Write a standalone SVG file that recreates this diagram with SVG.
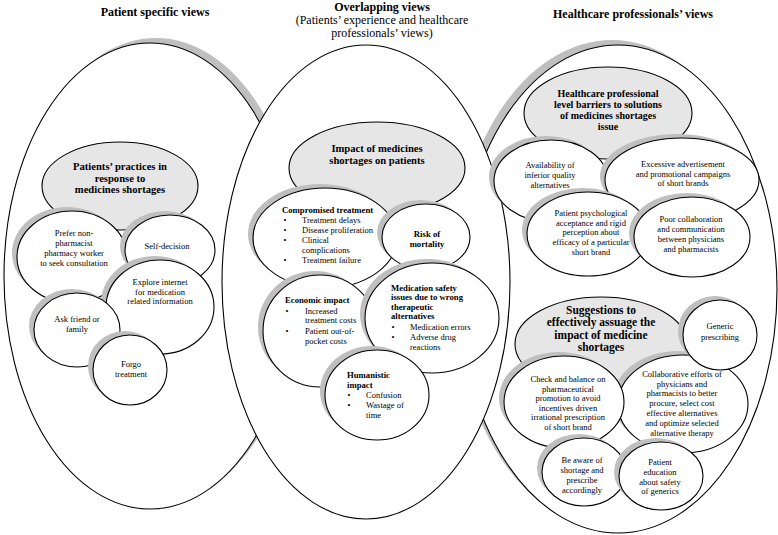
<svg xmlns="http://www.w3.org/2000/svg" width="778" height="535" viewBox="0 0 778 535">
<style>
.sh{fill:#bfbfbf}
.w{fill:#fff;stroke:#000;stroke-width:1.1}
.g{fill:#e6e6e6;stroke:#000;stroke-width:1.1}
text{font-family:"Liberation Serif","Times New Roman",serif;fill:#000}
.t{font-size:8.5px;text-anchor:middle}
.l{font-size:8.5px;text-anchor:start}
.bl{font-size:8.7px;font-weight:bold;text-anchor:start}
.bc{font-size:8.7px;font-weight:bold;text-anchor:middle}
.hd{font-size:10.6px;font-weight:bold;text-anchor:middle}
.ti{font-size:12px;font-weight:bold;text-anchor:middle}
.st{font-size:12px;text-anchor:middle}
</style>
<rect width="778" height="535" fill="#fff"/>

<!-- titles -->
<g id="titles">
<text class="ti" x="155" y="15.5">Patient specific views</text>
<text class="ti" x="382" y="11">Overlapping views</text>
<text class="st" x="382" y="24">(Patients’ experience and healthcare</text>
<text class="st" x="382" y="37">professionals’ views)</text>
<text class="ti" x="633" y="18">Healthcare professionals’ views</text>
</g>

<!-- big sections -->
<g id="section-patient">
<ellipse class="sh" cx="150" cy="276" rx="146" ry="233" transform="translate(6,-5)"/>
<ellipse class="w" cx="150" cy="276" rx="146" ry="233"/>
</g>
<g id="section-professional">
<ellipse class="sh" cx="618" cy="289" rx="159" ry="244" transform="translate(-6,-5)"/>
<ellipse class="w" cx="618" cy="289" rx="159" ry="244"/>
</g>
<g id="section-overlap">
<ellipse class="w" cx="366" cy="282" rx="144" ry="237"/>
</g>

<!-- left section nodes -->
<g id="patients-practices">
<ellipse class="g" cx="120" cy="186" rx="78" ry="44"/>
<text class="hd" x="120" y="170">Patients’ practices in</text>
<text class="hd" x="120" y="181.5">response to</text>
<text class="hd" x="120" y="193">medicines shortages</text>
</g>
<g id="prefer-non-pharmacist">
<ellipse class="sh" cx="72" cy="257" rx="55" ry="46" transform="translate(-5,-4)"/>
<ellipse class="w" cx="72" cy="257" rx="55" ry="46"/>
<text class="t" x="74" y="236">Prefer non-</text>
<text class="t" x="74" y="246">pharmacist</text>
<text class="t" x="74" y="256">pharmacy worker</text>
<text class="t" x="74" y="266">to seek consultation</text>
</g>
<g id="self-decision">
<ellipse class="sh" cx="170" cy="250" rx="45" ry="35" transform="translate(-5,-4)"/>
<ellipse class="w" cx="170" cy="250" rx="45" ry="35"/>
<text class="t" x="167" y="249">Self-decision</text>
</g>
<g id="explore-internet">
<ellipse class="sh" cx="160" cy="307" rx="54" ry="47" transform="translate(-5,-4)"/>
<ellipse class="w" cx="160" cy="307" rx="54" ry="47"/>
<text class="t" x="160" y="285">Explore internet</text>
<text class="t" x="160" y="294.5">for medication</text>
<text class="t" x="160" y="304">related information</text>
</g>
<g id="ask-friend">
<ellipse class="sh" cx="77" cy="330" rx="43" ry="37" transform="translate(-5,-4)"/>
<ellipse class="w" cx="77" cy="330" rx="43" ry="37"/>
<text class="t" x="77" y="322">Ask friend or</text>
<text class="t" x="77" y="332">family</text>
</g>
<g id="forgo-treatment">
<ellipse class="sh" cx="130" cy="370" rx="37" ry="35" transform="translate(-5,-4)"/>
<ellipse class="w" cx="130" cy="370" rx="37" ry="35"/>
<text class="t" x="131" y="367">Forgo</text>
<text class="t" x="131" y="377">treatment</text>
</g>

<!-- middle section nodes -->
<g id="impact">
<ellipse class="g" cx="377" cy="168" rx="88" ry="46"/>
<text class="hd" x="377" y="152">Impact of medicines</text>
<text class="hd" x="377" y="164">shortages on patients</text>
</g>
<g id="compromised-treatment">
<ellipse class="sh" cx="325" cy="238" rx="72" ry="50" transform="translate(-5,-4)"/>
<ellipse class="w" cx="325" cy="238" rx="72" ry="50"/>
<text class="bl" x="282" y="212.5">Compromised treatment</text>
<text class="t" x="285" y="222.5">•</text><text class="l" x="302" y="222.5">Treatment delays</text>
<text class="t" x="285" y="232.5">•</text><text class="l" x="302" y="232.5">Disease proliferation</text>
<text class="t" x="285" y="242.5">•</text><text class="l" x="302" y="242.5">Clinical</text>
<text class="l" x="302" y="252.5">complications</text>
<text class="t" x="285" y="262.5">•</text><text class="l" x="302" y="262.5">Treatment failure</text>
</g>
<g id="risk-mortality">
<ellipse class="sh" cx="426" cy="237" rx="44" ry="33" transform="translate(-5,-4)"/>
<ellipse class="w" cx="426" cy="237" rx="44" ry="33"/>
<text class="bc" x="427" y="236.5">Risk of</text>
<text class="bc" x="427" y="246.5">mortality</text>
</g>
<g id="economic-impact">
<ellipse class="sh" cx="320" cy="331" rx="57" ry="56" transform="translate(-5,-4)"/>
<ellipse class="w" cx="320" cy="331" rx="57" ry="56"/>
<text class="bl" x="285" y="303">Economic impact</text>
<text class="t" x="287" y="313.5">•</text><text class="l" x="305" y="313.5">Increased</text>
<text class="l" x="305" y="323">treatment costs</text>
<text class="t" x="287" y="334">•</text><text class="l" x="305" y="334">Patient out-of-</text>
<text class="l" x="305" y="343.5">pocket costs</text>
</g>
<g id="medication-safety">
<ellipse class="sh" cx="432" cy="318" rx="67" ry="55" transform="translate(-5,-4)"/>
<ellipse class="w" cx="432" cy="318" rx="67" ry="55"/>
<text class="bl" x="391" y="290.5">Medication safety</text>
<text class="bl" x="391" y="300">issues due to wrong</text>
<text class="bl" x="391" y="310">therapeutic</text>
<text class="bl" x="391" y="319">alternatives</text>
<text class="t" x="393" y="330">•</text><text class="l" x="410" y="330">Medication errors</text>
<text class="t" x="393" y="340">•</text><text class="l" x="410" y="340">Adverse drug</text>
<text class="l" x="410" y="350">reactions</text>
</g>
<g id="humanistic-impact">
<ellipse class="sh" cx="377" cy="395" rx="52" ry="45" transform="translate(-5,-4)"/>
<ellipse class="w" cx="377" cy="395" rx="52" ry="45"/>
<text class="bl" x="347" y="377.5">Humanistic</text>
<text class="bl" x="347" y="387.5">impact</text>
<text class="t" x="349" y="397.5">•</text><text class="l" x="366" y="397.5">Confusion</text>
<text class="t" x="349" y="407.5">•</text><text class="l" x="366" y="407.5">Wastage of</text>
<text class="l" x="366" y="417.5">time</text>
</g>

<!-- right top nodes -->
<g id="barriers">
<ellipse class="g" cx="608" cy="113" rx="84" ry="46"/>
<text class="hd" x="608" y="96.5" style="font-size:10px">Healthcare professional</text>
<text class="hd" x="608" y="107.5" style="font-size:10px">level barriers to solutions</text>
<text class="hd" x="608" y="118.5" style="font-size:10px">of medicines shortages</text>
<text class="hd" x="608" y="129.5" style="font-size:10px">issue</text>
</g>
<g id="availability">
<ellipse class="sh" cx="551" cy="181" rx="57" ry="41" transform="translate(-5,-4)"/>
<ellipse class="w" cx="551" cy="181" rx="57" ry="41"/>
<text class="t" x="550" y="167.5">Availability of</text>
<text class="t" x="550" y="177.5">inferior quality</text>
<text class="t" x="550" y="187.5">alternatives</text>
</g>
<g id="excessive-advertisement">
<ellipse class="sh" cx="682" cy="180" rx="77" ry="42" transform="translate(-5,-4)"/>
<ellipse class="w" cx="682" cy="180" rx="77" ry="42"/>
<text class="t" x="683" y="166.5">Excessive advertisement</text>
<text class="t" x="683" y="176.5">and promotional campaigns</text>
<text class="t" x="683" y="186">of short brands</text>
</g>
<g id="patient-psychological">
<ellipse class="sh" cx="588" cy="234" rx="61" ry="42" transform="translate(-5,-4)"/>
<ellipse class="w" cx="588" cy="234" rx="61" ry="42"/>
<text class="t" x="591" y="215.5">Patient psychological</text>
<text class="t" x="591" y="225.5">acceptance and rigid</text>
<text class="t" x="591" y="235">perception about</text>
<text class="t" x="591" y="245">efficacy of a particular</text>
<text class="t" x="591" y="255">short brand</text>
</g>
<g id="poor-collaboration">
<ellipse class="sh" cx="692" cy="237" rx="58" ry="40" transform="translate(-5,-4)"/>
<ellipse class="w" cx="692" cy="237" rx="58" ry="40"/>
<text class="t" x="691" y="222">Poor collaboration</text>
<text class="t" x="691" y="232">and communication</text>
<text class="t" x="691" y="242">between physicians</text>
<text class="t" x="691" y="251.5">and pharmacists</text>
</g>

<!-- right bottom nodes -->
<g id="suggestions">
<ellipse class="g" cx="601" cy="344" rx="86" ry="47"/>
<text class="hd" x="601" y="314" style="font-size:11.5px">Suggestions to</text>
<text class="hd" x="601" y="326.3" style="font-size:11.5px">effectively assuage the</text>
<text class="hd" x="601" y="338.6" style="font-size:11.5px">impact of medicine</text>
<text class="hd" x="601" y="351" style="font-size:11.5px">shortages</text>
</g>
<g id="collaborative-efforts">
<ellipse class="sh" cx="683" cy="404" rx="65" ry="49" transform="translate(-5,-4)"/>
<ellipse class="w" cx="683" cy="404" rx="65" ry="49"/>
<text class="t" x="682" y="377">Collaborative efforts of</text>
<text class="t" x="682" y="386.5">physicians and</text>
<text class="t" x="682" y="396">pharmacists to better</text>
<text class="t" x="682" y="406">procure, select cost</text>
<text class="t" x="682" y="416">effective alternatives</text>
<text class="t" x="682" y="426">and optimize selected</text>
<text class="t" x="682" y="436">alternative therapy</text>
</g>
<g id="generic-prescribing">
<ellipse class="sh" cx="720" cy="335" rx="37" ry="35" transform="translate(-5,-4)"/>
<ellipse class="w" cx="720" cy="335" rx="37" ry="35"/>
<text class="t" x="720" y="329">Generic</text>
<text class="t" x="720" y="340">prescribing</text>
</g>
<g id="check-and-balance">
<ellipse class="sh" cx="564" cy="402" rx="60" ry="46" transform="translate(-5,-4)"/>
<ellipse class="w" cx="564" cy="402" rx="60" ry="46"/>
<text class="t" x="568" y="381.5">Check and balance on</text>
<text class="t" x="568" y="391.5">pharmaceutical</text>
<text class="t" x="568" y="401">promotion to avoid</text>
<text class="t" x="568" y="410.5">incentives driven</text>
<text class="t" x="568" y="420">irrational prescription</text>
<text class="t" x="568" y="430">of short brand</text>
</g>
<g id="be-aware">
<ellipse class="sh" cx="584" cy="472" rx="42" ry="34" transform="translate(-5,-4)"/>
<ellipse class="w" cx="584" cy="472" rx="42" ry="34"/>
<text class="t" x="582" y="463">Be aware of</text>
<text class="t" x="582" y="473">shortage and</text>
<text class="t" x="582" y="483">prescribe</text>
<text class="t" x="582" y="493">accordingly</text>
</g>
<g id="patient-education">
<ellipse class="sh" cx="661" cy="476" rx="42" ry="34" transform="translate(-5,-4)"/>
<ellipse class="w" cx="661" cy="476" rx="42" ry="34"/>
<text class="t" x="660" y="465">Patient</text>
<text class="t" x="660" y="475">education</text>
<text class="t" x="660" y="484.5">about safety</text>
<text class="t" x="660" y="494">of generics</text>
</g>

<g id="connectors"/>
</svg>
